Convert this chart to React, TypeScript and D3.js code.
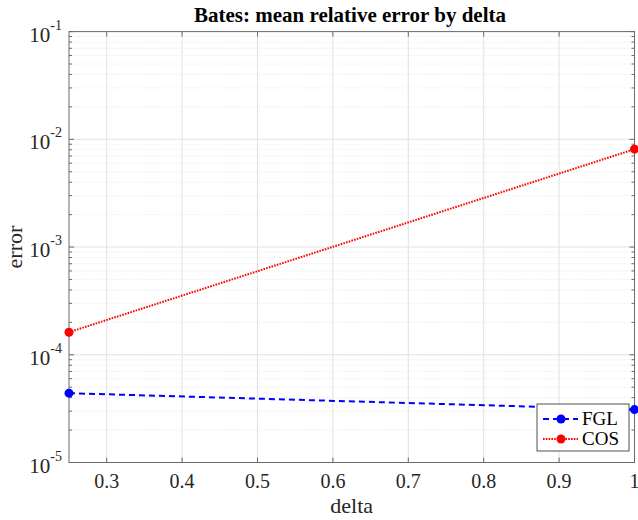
import * as d3 from "d3"

const deltas = [0.25, 1]
const fglErrors = [4.4e-5, 3.1e-5]
const cosErrors = [1.62e-4, 8.1e-3]
const xTicks = [0.3, 0.4, 0.5, 0.6, 0.7, 0.8, 0.9, 1]
const yDecades = [-5, -4, -3, -2, -1]

const W = 638
const H = 520
const m = { left: 69, right: 3.5, top: 31.6, bottom: 57.5 }
const font = "Liberation Serif, Times New Roman, serif"
const axisColor = "#6b6b6b"

export default function App() {
  const x = d3.scaleLinear().domain([0.25, 1]).range([m.left, W - m.right])
  const y = d3.scaleLog().domain([1e-5, 1e-1]).range([H - m.bottom, m.top])
  const [x0, x1] = x.range()
  const [y0, y1] = y.range()

  const minor: number[] = []
  yDecades.slice(0, -1).forEach((e) => {
    for (let k = 2; k <= 9; k++) minor.push(k * Math.pow(10, e))
  })

  const line = d3
    .line<number>()
    .x((_, i) => x(deltas[i]))
    .y((d) => y(d))

  const series = [
    { name: "FGL", data: fglErrors, color: "#0000ff", dash: "6,4" },
    { name: "COS", data: cosErrors, color: "#ff0000", dash: "1.6,1.2" },
  ]

  const lg = { x: 537, y: 404, w: 92, h: 47 }

  return (
    <svg width={W} height={H} style={{ position: "absolute", left: 0, top: 0, background: "#fff", fontFamily: font }}>
      {/* grid */}
      {minor.map((v) => (
        <line key={"mg" + v} x1={x0} x2={x1} y1={y(v)} y2={y(v)} stroke="#e4e4e4" strokeWidth={0.8} strokeDasharray="1,1.5" />
      ))}
      {xTicks.map((t) => (
        <line key={"xg" + t} x1={x(t)} x2={x(t)} y1={y0} y2={y1} stroke="#e2e2e2" strokeWidth={1} />
      ))}
      {yDecades.map((e) => (
        <line key={"yg" + e} x1={x0} x2={x1} y1={y(Math.pow(10, e))} y2={y(Math.pow(10, e))} stroke="#e2e2e2" strokeWidth={1} />
      ))}

      {/* box */}
      <rect x={x0} y={y1} width={x1 - x0} height={y0 - y1} fill="none" stroke={axisColor} strokeWidth={1} />

      {/* ticks */}
      {xTicks.map((t) => (
        <g key={"xt" + t}>
          <line x1={x(t)} x2={x(t)} y1={y0} y2={y0 - 5} stroke={axisColor} />
          <line x1={x(t)} x2={x(t)} y1={y1} y2={y1 + 5} stroke={axisColor} />
          <text x={x(t)} y={y0 + 25} textAnchor="middle" fontSize={20} fill="#262626">
            {t}
          </text>
        </g>
      ))}
      {yDecades.map((e) => (
        <g key={"yt" + e}>
          <line x1={x0} x2={x0 + 5} y1={y(Math.pow(10, e))} y2={y(Math.pow(10, e))} stroke={axisColor} />
          <line x1={x1} x2={x1 - 5} y1={y(Math.pow(10, e))} y2={y(Math.pow(10, e))} stroke={axisColor} />
          <text x={x0 - 7} y={y(Math.pow(10, e)) + 10} textAnchor="end" fontSize={21} fill="#262626">
            10<tspan dy={-12} fontSize={14}>{e}</tspan>
          </text>
        </g>
      ))}
      {minor.map((v) => (
        <g key={"mt" + v}>
          <line x1={x0} x2={x0 + 3} y1={y(v)} y2={y(v)} stroke={axisColor} />
          <line x1={x1} x2={x1 - 3} y1={y(v)} y2={y(v)} stroke={axisColor} />
        </g>
      ))}

      {/* series */}
      {series.map((s) => (
        <g key={s.name}>
          <path d={line(s.data) ?? ""} fill="none" stroke={s.color} strokeWidth={2} strokeDasharray={s.dash} />
          {s.data.map((v, i) => (
            <circle key={i} cx={x(deltas[i])} cy={y(v)} r={4.5} fill={s.color} />
          ))}
        </g>
      ))}

      {/* labels */}
      <text x={350} y={22} textAnchor="middle" fontSize={21} fontWeight="bold" fill="#000">
        Bates: mean relative error by delta
      </text>
      <text x={(x0 + x1) / 2} y={513} textAnchor="middle" fontSize={22} fill="#262626">
        delta
      </text>
      <text transform={`translate(22,${(y0 + y1) / 2}) rotate(-90)`} textAnchor="middle" fontSize={22} fill="#262626">
        error
      </text>

      {/* legend */}
      <rect x={lg.x} y={lg.y} width={lg.w} height={lg.h} fill="#fff" stroke="#262626" strokeWidth={0.8} />
      {series.map((s, i) => {
        const ly = lg.y + 15 + i * 20
        return (
          <g key={"lg" + s.name}>
            <line x1={lg.x + 6} x2={lg.x + 41} y1={ly} y2={ly} stroke={s.color} strokeWidth={2} strokeDasharray={s.dash} />
            <circle cx={lg.x + 24} cy={ly} r={4.5} fill={s.color} />
            <text x={lg.x + 45} y={ly + 6} fontSize={19} fill="#000">
              {s.name}
            </text>
          </g>
        )
      })}
    </svg>
  )
}
